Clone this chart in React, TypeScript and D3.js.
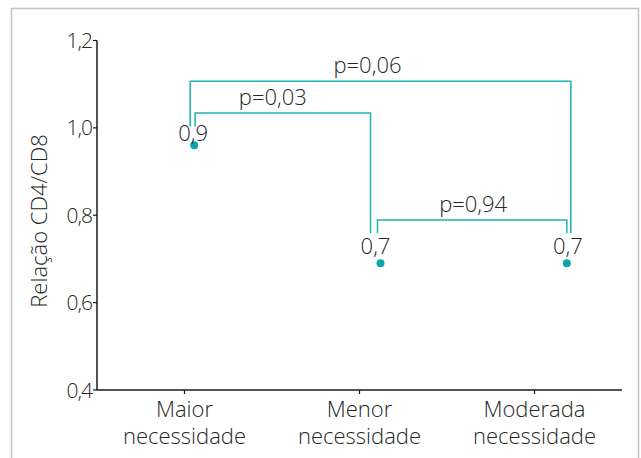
import { useRef, useEffect } from "react";
import * as d3 from "d3";

const categories = ["Maior necessidade", "Menor necessidade", "Moderada necessidade"];
const values = [0.96, 0.69, 0.69];
const valueLabels = ["0,9", "0,7", "0,7"];
const yTicks = [0.4, 0.6, 0.8, 1.0, 1.2];
const yTickLabels = ["0,4", "0,6", "0,8", "1,0", "1,2"];

// comparison brackets: [from index, to index]
const bracketPairs: [number, number][] = [[0, 2], [0, 1], [1, 2]];
const bracketLevels = [1.107, 1.034, 0.789];
const bracketEnds: [number, number][] = [[1.003, 0.759], [1.003, 0.759], [0.759, 0.759]];
const bracketLabels = ["p=0,06", "p=0,03", "p=0,94"];

const W = 641;
const H = 458;
const FONT = "'Open Sans', Lato, sans-serif";
const TEXT = "#262626";
const TEAL_LINE = "#20b2b4";
const TEAL_DOT = "#0ea5a7";
const FS = 22;

export default function App() {
  const svgRef = useRef<SVGSVGElement>(null);

  useEffect(() => {
    if (!svgRef.current) return;
    const svg = d3.select(svgRef.current);
    svg.selectAll("*").remove();

    const x = d3.scalePoint<string>().domain(categories).range([97, 622]).padding(0.5);
    // points sit a bit right of the ticks in the original
    const xp = d3.scalePoint<string>().domain(categories).range([101, 660]).padding(0.5);
    const y = d3.scaleLinear().domain([0.4, 1.2]).range([390, 40.5]);

    // frame
    svg.append("path")
      .attr("d", `M11.5,${H} V8.5 H638.5 V${H}`)
      .attr("fill", "none")
      .attr("stroke", "#c4c4c4")
      .attr("stroke-width", 1.5);

    // y axis
    const yAxis = svg.append("g").attr("transform", "translate(97,0)");
    yAxis.append("line").attr("y1", y(1.2)).attr("y2", y(0.4)).attr("stroke", "#1a1a1a").attr("stroke-width", 1.5);
    yAxis.selectAll("line.tick")
      .data(yTicks)
      .join("line")
      .attr("class", "tick")
      .attr("x1", -4).attr("x2", 0)
      .attr("y1", (d) => y(d)).attr("y2", (d) => y(d))
      .attr("stroke", "#1a1a1a").attr("stroke-width", 1.2);
    yAxis.selectAll("text")
      .data(yTicks)
      .join("text")
      .attr("x", -5)
      .attr("y", (d) => y(d))
      .attr("dy", "0.36em")
      .attr("text-anchor", "end")
      .attr("font-family", FONT)
      .attr("font-weight", 300)
      .attr("font-size", 21)
      .attr("letter-spacing", -1)
      .attr("fill", TEXT)
      .text((_, i) => yTickLabels[i]);

    // x axis
    const xAxis = svg.append("g").attr("transform", `translate(0,${y(0.4)})`);
    xAxis.append("line").attr("x1", 97).attr("x2", 622).attr("stroke", "#1a1a1a").attr("stroke-width", 1.5);
    xAxis.selectAll("line.tick")
      .data(categories)
      .join("line")
      .attr("class", "tick")
      .attr("x1", (d) => x(d)!).attr("x2", (d) => x(d)!)
      .attr("y1", 0).attr("y2", 4)
      .attr("stroke", "#1a1a1a").attr("stroke-width", 1.2);
    const xl = xAxis.selectAll("text")
      .data(categories)
      .join("text")
      .attr("text-anchor", "middle")
      .attr("font-family", FONT)
      .attr("font-weight", 300)
      .attr("font-size", FS)
      .attr("fill", TEXT);
    xl.each(function (d) {
      const words = d.split(" ");
      const t = d3.select(this);
      words.forEach((w, i) => {
        t.append("tspan").attr("x", x(d)!).attr("y", 27 + i * 26.5).text(w);
      });
    });

    // y title
    svg.append("text")
      .attr("transform", "translate(47,221) rotate(-90)")
      .attr("text-anchor", "middle")
      .attr("font-family", FONT)
      .attr("font-weight", 300)
      .attr("font-size", FS)
      .attr("fill", TEXT)
      .text("Relação CD4/CD8");

    // brackets
    const endDx: [number, number][] = [[-4, 4], [1, -10], [-3, 0]];
    const labelDx = [-13, -10, 1];
    bracketPairs.forEach(([a, b], i) => {
      const x1 = xp(categories[a])! + endDx[i][0];
      const x2 = xp(categories[b])! + endDx[i][1];
      const ly = y(bracketLevels[i]);
      const path = d3.path();
      path.moveTo(x1, y(bracketEnds[i][0]));
      path.lineTo(x1, ly);
      path.lineTo(x2, ly);
      path.lineTo(x2, y(bracketEnds[i][1]));
      svg.append("path")
        .attr("d", path.toString())
        .attr("fill", "none")
        .attr("stroke", TEAL_LINE)
        .attr("stroke-width", 1.5);
      svg.append("text")
        .attr("x", (x1 + x2) / 2 + labelDx[i])
        .attr("y", ly - 8)
        .attr("text-anchor", "middle")
        .attr("font-family", FONT)
        .attr("font-weight", 300)
        .attr("font-size", FS)
        .attr("fill", TEXT)
        .text(bracketLabels[i]);
    });

    // points + value labels
    const labelOff: [number, number][] = [[-1, -4], [-5, -9], [1, -9]];
    svg.selectAll("circle.pt")
      .data(values)
      .join("circle")
      .attr("class", "pt")
      .attr("cx", (_, i) => xp(categories[i])!)
      .attr("cy", (d) => y(d))
      .attr("r", 4)
      .attr("fill", TEAL_DOT);
    svg.selectAll("text.val")
      .data(values)
      .join("text")
      .attr("class", "val")
      .attr("x", (_, i) => xp(categories[i])! + labelOff[i][0])
      .attr("y", (d, i) => y(d) + labelOff[i][1])
      .attr("text-anchor", "middle")
      .attr("font-family", FONT)
      .attr("font-weight", 300)
      .attr("font-size", FS)
      .attr("fill", TEXT)
      .text((_, i) => valueLabels[i]);
  }, []);

  return (
    <svg
      ref={svgRef}
      width={W}
      height={H}
      style={{ position: "absolute", left: 0, top: 0, background: "#fff" }}
    />
  );
}
